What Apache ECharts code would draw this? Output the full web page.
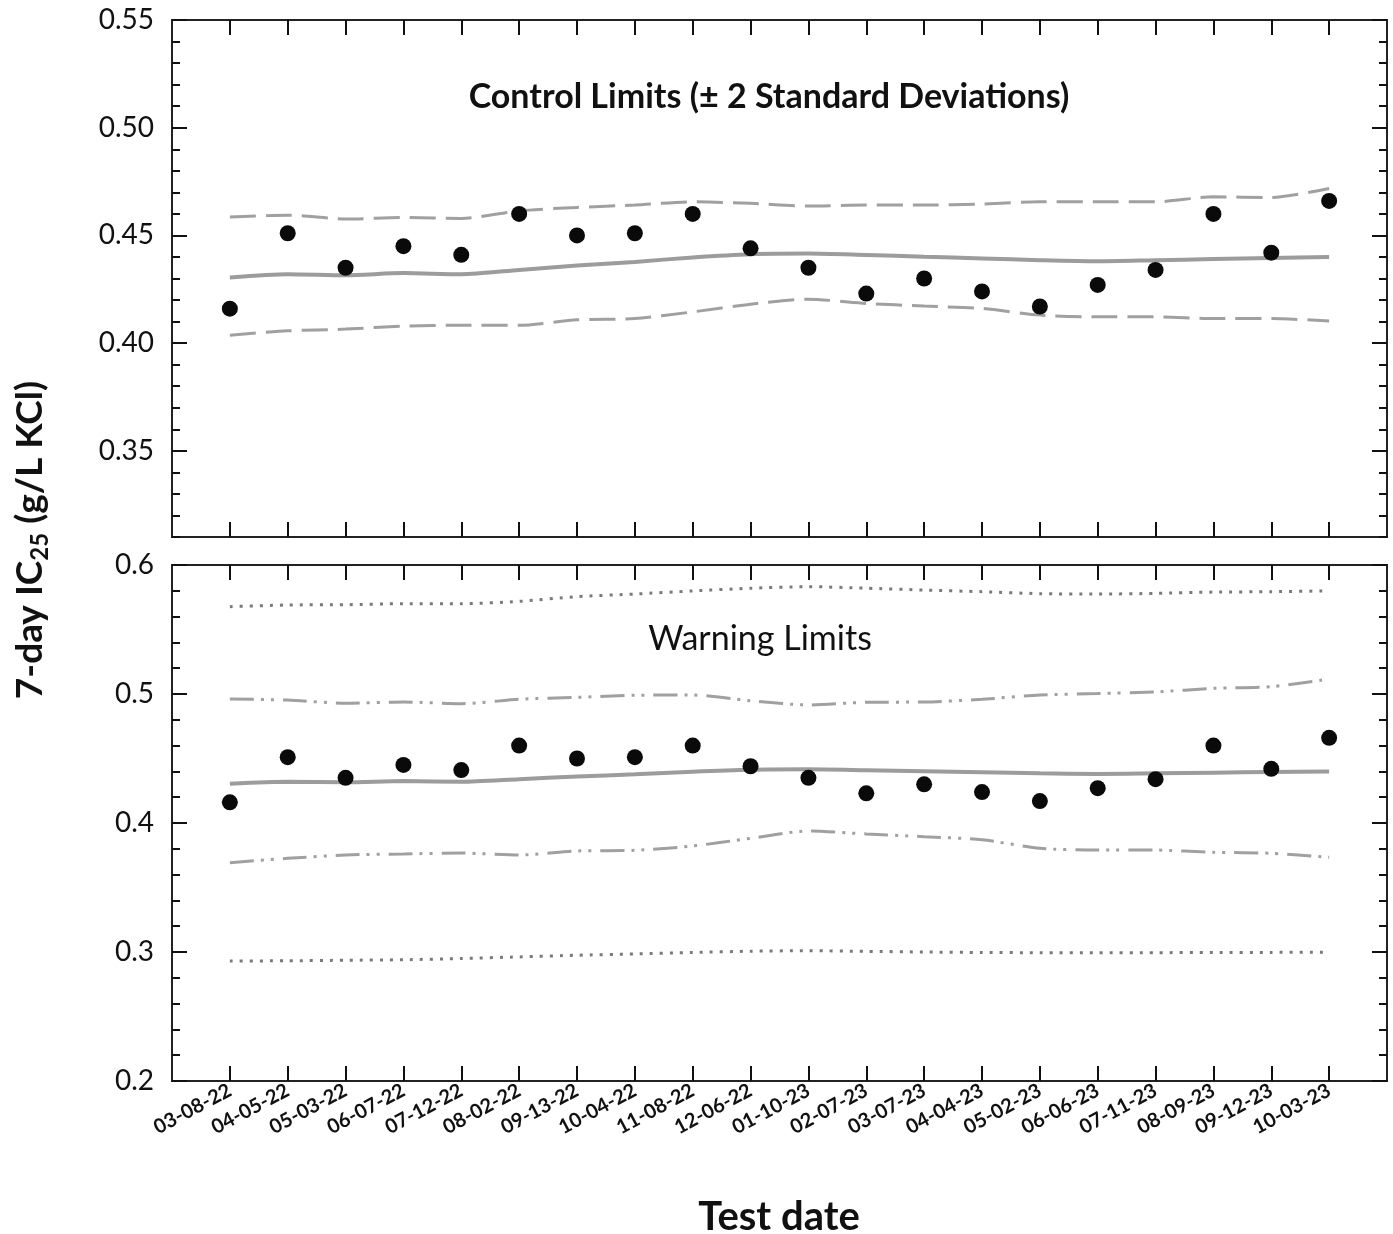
<!DOCTYPE html>
<html>
<head>
<meta charset="utf-8">
<title>7-day IC25 control chart</title>
<script src="https://cdn.jsdelivr.net/npm/echarts@6/dist/echarts.min.js"></script>
<style>
  html, body { margin: 0; padding: 0; background: #fff; }
  #chart { width: 1393px; height: 1234px; }
</style>
</head>
<body>
<div id="chart"></div>
<script>
// Test dates (x categories)
const testDates = ['03-08-22','04-05-22','05-03-22','06-07-22','07-12-22','08-02-22','09-13-22','10-04-22','11-08-22','12-06-22',
                   '01-10-23','02-07-23','03-07-23','04-04-23','05-02-23','06-06-23','07-11-23','08-09-23','09-12-23','10-03-23'];

// Measured 7-day IC25 values (g/L KCl)
const ic25 = [0.416, 0.451, 0.435, 0.445, 0.441, 0.460, 0.450, 0.451, 0.460, 0.444,
              0.435, 0.423, 0.430, 0.424, 0.417, 0.427, 0.434, 0.460, 0.442, 0.466];

// Running mean
const runningMean = [0.4305, 0.4320, 0.4315, 0.4325, 0.4320, 0.4340, 0.4360, 0.4377, 0.4398, 0.4413,
                     0.4416, 0.4409, 0.4401, 0.4393, 0.4385, 0.4380, 0.4385, 0.4390, 0.4395, 0.4400];

// Control limits (mean ± 2 SD)
const upperControl = [0.4586, 0.4594, 0.4576, 0.4583, 0.4579, 0.4614, 0.4630, 0.4641, 0.4656, 0.4649,
                      0.4636, 0.4641, 0.4641, 0.4646, 0.4656, 0.4656, 0.4656, 0.4679, 0.4676, 0.4718];
const lowerControl = [0.4037, 0.4057, 0.4065, 0.4079, 0.4083, 0.4083, 0.4108, 0.4114, 0.4145, 0.4181,
                      0.4204, 0.4184, 0.4172, 0.4161, 0.4130, 0.4122, 0.4122, 0.4114, 0.4114, 0.4103];

// Warning limits: inner band (dash-dot-dot) and outer band (dotted)
const upperInner = [0.4961, 0.4953, 0.4928, 0.4938, 0.4925, 0.4959, 0.4974, 0.4990, 0.4992, 0.4948,
                    0.4915, 0.4936, 0.4938, 0.4959, 0.4992, 0.5003, 0.5016, 0.5044, 0.5057, 0.5116];
const lowerInner = [0.3692, 0.3726, 0.3752, 0.3760, 0.3767, 0.3752, 0.3783, 0.3788, 0.3822, 0.3881,
                    0.3938, 0.3915, 0.3894, 0.3870, 0.3804, 0.3790, 0.3790, 0.3773, 0.3765, 0.3734];
const upperOuter = [0.5677, 0.5690, 0.5692, 0.5700, 0.5700, 0.5718, 0.5755, 0.5775, 0.5799, 0.5820,
                    0.5832, 0.5820, 0.5806, 0.5793, 0.5778, 0.5775, 0.5780, 0.5790, 0.5793, 0.5800];
const lowerOuter = [0.2930, 0.2932, 0.2936, 0.2940, 0.2950, 0.2962, 0.2975, 0.2985, 0.2996, 0.3006,
                    0.3010, 0.3005, 0.3000, 0.2996, 0.2995, 0.2995, 0.2995, 0.2996, 0.2997, 0.2998];

// Axis tick labels
const topTicks = [0.35, 0.40, 0.45, 0.50, 0.55];
const bottomTicks = [0.2, 0.3, 0.4, 0.5, 0.6];

const TOP_MIN = 0.31, TOP_MAX = 0.55;
const BOT_MIN = 0.2, BOT_MAX = 0.6;

// Minor ticks every 0.01 on the upper panel
const topMinor = [];
for (let k = 31; k <= 55; k++) {
  if (k % 5 !== 0) topMinor.push(k / 100);
}

// Minor ticks every 0.02 on the lower panel
const botMinor = [];
for (let k = 10; k <= 30; k++) {
  if (k % 5 !== 0) botMinor.push(k / 50);
}

const FONT = 'Lato, "Open Sans", "Liberation Sans", sans-serif';
const INK = '#111';
const LINE_GRAY = '#9c9c9c';

const pairs = arr => arr.map((v, i) => [i, v]);

const chart = echarts.init(document.getElementById('chart'), null, { renderer: 'canvas' });

function xAxisFor(gridIndex, position, showLabels) {
  return {
    type: 'value', gridIndex, position,
    min: -1, max: 20, interval: 1,
    axisLine: { show: false, onZero: false },
    splitLine: { show: false },
    axisTick: { show: true, inside: true, length: 15, lineStyle: { color: INK, width: 2 },
                customValues: testDates.map((d, i) => i) },
    axisLabel: showLabels ? {
      show: true, rotate: 28, margin: 8,
      fontFamily: FONT, fontWeight: 'bold', fontSize: 20, color: INK,
      customValues: testDates.map((d, i) => i),
      formatter: v => testDates[v] || ''
    } : { show: false }
  };
}

function yAxisFor(gridIndex, position, min, max, tickValues, len, labelDigits) {
  return {
    type: 'value', gridIndex, position, min, max,
    axisLine: { show: false, onZero: false },
    splitLine: { show: false },
    axisTick: { show: true, inside: true, length: len, lineStyle: { color: INK, width: 2 },
                customValues: tickValues },
    axisLabel: labelDigits != null ? {
      show: true, margin: 18,
      fontFamily: FONT, fontSize: 28, color: INK,
      customValues: tickValues,
      formatter: v => Number(v).toFixed(labelDigits)
    } : { show: false }
  };
}

function lineSeries(name, data, xi, yi, type, width, color) {
  return {
    name, type: 'line', xAxisIndex: xi, yAxisIndex: yi,
    data: pairs(data), symbol: 'none', smooth: 0.25,
    lineStyle: { color, width, type, cap: 'butt' },
    silent: true, z: 2
  };
}

function pointSeries(xi, yi) {
  return {
    name: 'IC25', type: 'scatter', xAxisIndex: xi, yAxisIndex: yi,
    data: pairs(ic25), symbol: 'circle', symbolSize: 16,
    itemStyle: { color: '#0a0a0a', opacity: 1 },
    silent: true, z: 5
  };
}

const DASH = [26, 10];
const DASH_DOT_DOT = [24, 7, 3, 7, 3, 9];
const DOT = [3, 7];

const option = {
  animation: false,
  backgroundColor: '#fff',
  grid: [
    { left: 172, right: 6, top: 20, height: 517, show: true, borderColor: '#222', borderWidth: 2, backgroundColor: 'transparent' },
    { left: 172, right: 6, top: 565, height: 516, show: true, borderColor: '#222', borderWidth: 2, backgroundColor: 'transparent' }
  ],
  xAxis: [
    xAxisFor(0, 'bottom', false),
    xAxisFor(0, 'top', false),
    xAxisFor(1, 'bottom', true),
    xAxisFor(1, 'top', false)
  ],
  yAxis: [
    yAxisFor(0, 'left', TOP_MIN, TOP_MAX, topTicks, 15, 2),
    yAxisFor(0, 'left', TOP_MIN, TOP_MAX, topMinor, 8, null),
    yAxisFor(0, 'right', TOP_MIN, TOP_MAX, topTicks, 15, null),
    yAxisFor(0, 'right', TOP_MIN, TOP_MAX, topMinor, 8, null),
    yAxisFor(1, 'left', BOT_MIN, BOT_MAX, bottomTicks, 15, 1),
    yAxisFor(1, 'left', BOT_MIN, BOT_MAX, botMinor, 8, null),
    yAxisFor(1, 'right', BOT_MIN, BOT_MAX, bottomTicks, 15, null),
    yAxisFor(1, 'right', BOT_MIN, BOT_MAX, botMinor, 8, null)
  ],
  series: [
    // Upper panel: control limits
    lineSeries('Mean', runningMean, 0, 0, 'solid', 4, LINE_GRAY),
    lineSeries('Upper control', upperControl, 0, 0, DASH, 3, '#a0a0a0'),
    lineSeries('Lower control', lowerControl, 0, 0, DASH, 3, '#a0a0a0'),
    pointSeries(0, 0),
    // Lower panel: warning limits
    lineSeries('Mean', runningMean, 2, 4, 'solid', 4, LINE_GRAY),
    lineSeries('Upper inner', upperInner, 2, 4, DASH_DOT_DOT, 3, '#a0a0a0'),
    lineSeries('Lower inner', lowerInner, 2, 4, DASH_DOT_DOT, 3, '#a0a0a0'),
    lineSeries('Upper outer', upperOuter, 2, 4, DOT, 3, '#7a7a7a'),
    lineSeries('Lower outer', lowerOuter, 2, 4, DOT, 3, '#7a7a7a'),
    pointSeries(2, 4)
  ],
  graphic: [
    {
      type: 'text', x: 769, y: 97,
      style: { text: 'Control Limits (± 2 Standard Deviations)', fill: INK,
               font: 'bold 34px ' + FONT,
               align: 'center', verticalAlign: 'middle', textAlign: 'center', textVerticalAlign: 'middle' }
    },
    {
      type: 'text', x: 760, y: 639,
      style: { text: 'Warning Limits', fill: INK, font: '34px ' + FONT,
               align: 'center', verticalAlign: 'middle', textAlign: 'center', textVerticalAlign: 'middle' }
    },
    {
      type: 'text', x: 779, y: 1217,
      style: { text: 'Test date', fill: INK, font: 'bold 40px ' + FONT,
               align: 'center', verticalAlign: 'middle', textAlign: 'center', textVerticalAlign: 'middle' }
    },
    {
      type: 'text', x: 30, y: 540, rotation: Math.PI / 2,
      style: {
        text: '{m|7-day IC}{s|25}{m| (g/L KCl)}',
        align: 'center', verticalAlign: 'middle', textAlign: 'center', textVerticalAlign: 'middle',
        fill: INK,
        rich: {
          m: { fontFamily: FONT, fontWeight: 'bold', fontSize: 37, lineHeight: 44, fill: INK, color: INK },
          s: { fontFamily: FONT, fontWeight: 'bold', fontSize: 24, lineHeight: 22, verticalAlign: 'bottom', fill: INK, color: INK }
        }
      }
    }
  ]
};

chart.setOption(option);
</script>
</body>
</html>
